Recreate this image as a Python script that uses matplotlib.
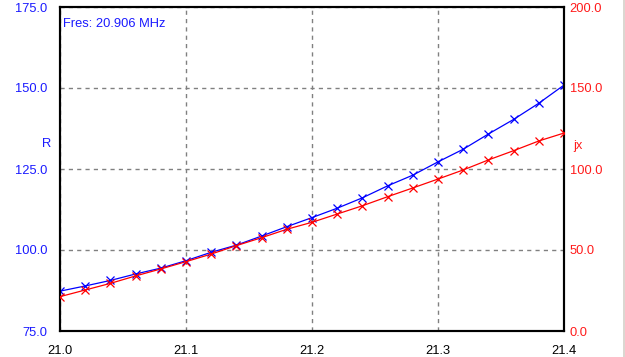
import matplotlib.pyplot as plt
from matplotlib.lines import Line2D

# frequency sweep (MHz)
freq = [21.00, 21.02, 21.04, 21.06, 21.08, 21.10, 21.12, 21.14, 21.16, 21.18, 21.20,
        21.22, 21.24, 21.26, 21.28, 21.30, 21.32, 21.34, 21.36, 21.38, 21.40]
# resistance R (left axis)
r_vals = [87.3, 88.9, 90.6, 92.6, 94.4, 96.7, 99.3, 101.5, 104.3, 107.2, 110.0,
          112.9, 116.1, 119.8, 123.1, 127.2, 131.1, 135.8, 140.3, 145.3, 150.9]
# reactance jx (right axis)
jx_vals = [21.2, 25.3, 29.4, 34.0, 38.3, 42.8, 47.5, 52.7, 57.6, 62.8, 67.1,
           72.2, 77.3, 82.9, 88.3, 93.8, 99.4, 105.6, 111.3, 117.3, 122.2]

x_ticks = [21.0, 21.1, 21.2, 21.3, 21.4]
r_ticks = [75.0, 100.0, 125.0, 150.0, 175.0]
jx_ticks = [0.0, 50.0, 100.0, 150.0, 200.0]
fres_text = "Fres: 20.906 MHz"

plt.rcParams['font.family'] = ['Liberation Sans', 'DejaVu Sans']
fs = 9.3

fig = plt.figure(figsize=(6.25, 3.57), dpi=100)
ax = fig.add_axes([60 / 625, 1 - 331 / 357, 504 / 625, 324 / 357])
ax2 = ax.twinx()

ax.plot(freq, r_vals, color='#0000ff', lw=0.9, marker='x', ms=5.5, mew=0.9, zorder=3)
ax2.plot(freq, jx_vals, color='#ff0000', lw=0.9, marker='x', ms=5.5, mew=0.9, zorder=3)

ax.set_xlim(21.0, 21.4)
ax.set_ylim(75, 175)
ax2.set_ylim(0, 200)

ax.set_xticks(x_ticks)
ax.set_xticklabels(['%.1f' % v for v in x_ticks], fontsize=fs, color='black')
ax.set_yticks(r_ticks)
ax.set_yticklabels(['%.1f' % v for v in r_ticks], fontsize=fs, color='#1a1aff')
ax2.set_yticks(jx_ticks)
ax2.set_yticklabels(['%.1f' % v for v in jx_ticks], fontsize=fs, color='#ff1a1a')

ax.tick_params(axis='x', length=0, pad=10)
ax.tick_params(axis='y', length=0, pad=9)
ax2.tick_params(axis='y', length=0, pad=4)

ax.grid(True, color='#808080', ls=(0, (3, 3)), lw=1)

for a in (ax, ax2):
    for s in a.spines.values():
        s.set_color('black')
        s.set_linewidth(1.5)

ax.text(-0.026, 0.577, 'R', transform=ax.transAxes, color='#1a1aff', fontsize=fs,
        ha='center', va='center')
ax.text(1.028, 0.571, 'jx', transform=ax.transAxes, color='#ff1a1a', fontsize=fs,
        ha='center', va='center')
ax.text(0.006, 0.948, fres_text, transform=ax.transAxes, color='#1a1aff', fontsize=fs,
        ha='left', va='center')

# window border on the right
fig.add_artist(Line2D([623.5 / 625, 623.5 / 625], [0, 1], transform=fig.transFigure,
                      color='#d4d0c8', lw=1.2))

fig.savefig('out.png', dpi=100)
